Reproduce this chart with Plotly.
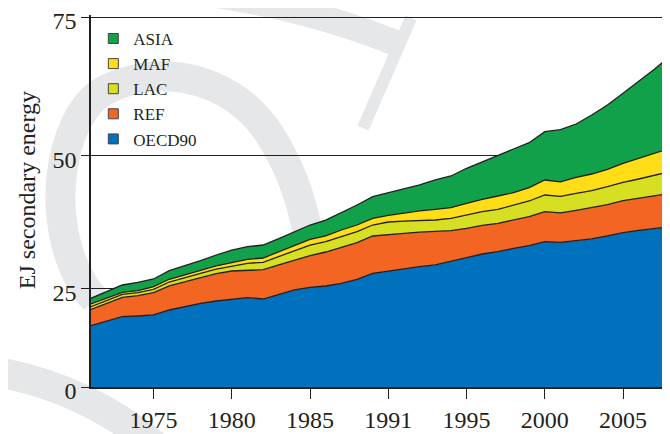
import plotly.graph_objects as go

years = list(range(1971, 2009))

oecd90 = [19.32, 20.11, 20.94, 21.07, 21.25, 22.15, 22.74, 23.36, 23.77, 24.13,
          24.37, 24.13, 24.98, 25.76, 26.24, 26.48, 26.96, 27.69, 28.77, 29.18,
          29.67, 29.96, 30.27, 30.86, 31.58, 32.25, 32.66, 33.28, 33.75, 34.47,
          34.35, 34.65, 34.96, 35.50, 36.09, 36.52, 36.81, 37.17]
ref = [2.95, 3.30, 3.50, 3.66, 4.02, 4.33, 4.51, 4.69, 4.93, 5.05,
       4.99, 5.29, 5.29, 5.35, 5.70, 6.13, 6.50, 6.60, 6.73, 6.62,
       6.31, 6.22, 6.00, 5.59, 5.31, 5.18, 5.13, 5.10, 5.23, 5.41,
       5.33, 5.48, 5.64, 5.64, 5.77, 5.78, 5.96, 6.03]
lac = [0.47, 0.42, 0.54, 0.54, 0.61, 0.72, 0.80, 0.72, 0.84, 0.91,
       1.21, 1.33, 1.49, 1.74, 1.93, 1.86, 1.91, 1.98, 1.98, 2.22,
       2.20, 2.10, 2.11, 2.24, 2.39, 2.45, 2.52, 2.71, 2.83, 3.01,
       2.97, 3.07, 3.07, 3.25, 3.32, 3.48, 3.73, 3.90]
maf = [0.49, 0.43, 0.36, 0.36, 0.47, 0.49, 0.41, 0.47, 0.55, 0.59,
       0.72, 0.78, 0.90, 1.02, 1.03, 1.03, 1.21, 1.21, 1.21, 1.21,
       1.50, 1.75, 1.93, 1.91, 2.11, 2.24, 2.40, 2.22, 2.40, 2.71,
       2.62, 2.88, 3.01, 3.14, 3.43, 3.73, 3.79, 4.22]
asia = [1.03, 1.19, 1.32, 1.51, 1.39, 1.55, 1.63, 1.80, 1.98, 2.29,
        2.28, 2.34, 2.35, 2.40, 2.58, 2.88, 3.12, 3.61, 3.90, 4.08,
        4.42, 4.67, 5.29, 5.72, 6.32, 6.78, 7.40, 7.88, 8.12, 8.71,
        9.41, 9.62, 10.64, 11.60, 12.63, 13.82, 15.28, 16.65]

series_names = ["OECD90", "REF", "LAC", "MAF", "ASIA"]
series_values = [oecd90, ref, lac, maf, asia]
series_colors = ["#0071BC", "#F26522", "#D7DF23", "#FFDE17", "#12A14B"]

x_tick_vals = [1975, 1980, 1985, 1990, 1995, 2000, 2005]
x_tick_text = ["1975", "1980", "1985", "1991", "1995", "2000", "2005"]
y_tick_vals = [8.26, 26.0, 50, 75]
y_tick_text = ["0", "25", "50", "75"]

INK = "#231F20"
FONT = "Liberation Serif, Times New Roman, serif"
WATERMARK = "#E6E7E8"

# plot-area geometry (page pixels) used only to place the faint background watermark
PL, PR, PT, PB = 91.0, 670.0, 15.0, 387.0


def wm_path(cmds):
    out = []
    for c in cmds:
        if isinstance(c, str):
            out.append(c)
        else:
            px, py = c
            out.append("%.4f,%.4f" % ((px - PL) / (PR - PL), (PB - py) / (PB - PT)))
    return " ".join(out)


watermark_strokes = [
    (wm_path(["M", (95, 300), "C", (40, 240), (55, 110), (110, 88),
              "C", (165, 62), (235, 80), (270, 135),
              "C", (292, 170), (305, 205), (312, 260)]), 30),
    (wm_path(["M", (195, -8), "Q", (305, 6), (398, 44)]), 26),
    (wm_path(["M", (411, 18), "L", (363, 128)]), 12),
    (wm_path(["M", (-15, 370), "Q", (85, 385), (160, 450)]), 30),
]

fig = go.Figure()

for name, vals, col in zip(series_names, series_values, series_colors):
    fig.add_trace(go.Scatter(
        x=years, y=vals, name=name, mode="lines",
        stackgroup="one", fillcolor=col,
        line=dict(color=INK, width=1.3),
        showlegend=False, hoverinfo="x+y+name",
    ))

for name, col in reversed(list(zip(series_names, series_colors))):
    fig.add_trace(go.Scatter(
        x=[None], y=[None], name=name, mode="markers",
        marker=dict(symbol="square", size=10, color=col,
                    line=dict(color="#444444", width=1)),
        showlegend=True,
    ))

shapes = [dict(type="path", path=p, xref="paper", yref="paper", layer="below",
               line=dict(color=WATERMARK, width=w), fillcolor="rgba(0,0,0,0)")
          for p, w in watermark_strokes]

fig.update_layout(
    width=662, height=426,
    margin=dict(l=83, r=0, t=7, b=47, autoexpand=False),
    paper_bgcolor="white", plot_bgcolor="rgba(0,0,0,0)",
    font=dict(family=FONT, color=INK, size=24),
    showlegend=True,
    legend=dict(
        x=0.004, y=0.984, xanchor="left", yanchor="top",
        traceorder="normal", bgcolor="rgba(0,0,0,0)",
        font=dict(family=FONT, size=17, color=INK),
        itemwidth=30,
    ),
    xaxis=dict(
        range=[1971, 2008], tickmode="array",
        tickvals=x_tick_vals, ticktext=x_tick_text,
        ticks="outside", ticklen=10, tickwidth=1.3, tickcolor=INK,
        showline=True, linecolor=INK, linewidth=2,
        showgrid=False, zeroline=False, automargin=False,
        ticklabeloverflow="allow",
        tickfont=dict(family=FONT, size=24, color=INK),
    ),
    yaxis=dict(
        range=[8.26, 75.36], tickmode="array",
        tickvals=y_tick_vals, ticktext=y_tick_text,
        ticks="outside", ticklen=8, tickwidth=1.3, tickcolor=INK,
        showline=True, linecolor=INK, linewidth=1.5,
        showgrid=True, gridcolor=INK, gridwidth=1,
        zeroline=False, automargin=False,
        ticklabeloverflow="allow", ticklabelshift=4,
        tickfont=dict(family=FONT, size=24, color=INK),
    ),
    shapes=shapes,
    annotations=[dict(
        text="EJ secondary energy", textangle=-90,
        xref="paper", yref="paper", x=-0.110, y=0.53,
        xanchor="center", yanchor="middle", showarrow=False,
        font=dict(family=FONT, size=24, color=INK),
    )],
)

fig.write_html("out.html")
